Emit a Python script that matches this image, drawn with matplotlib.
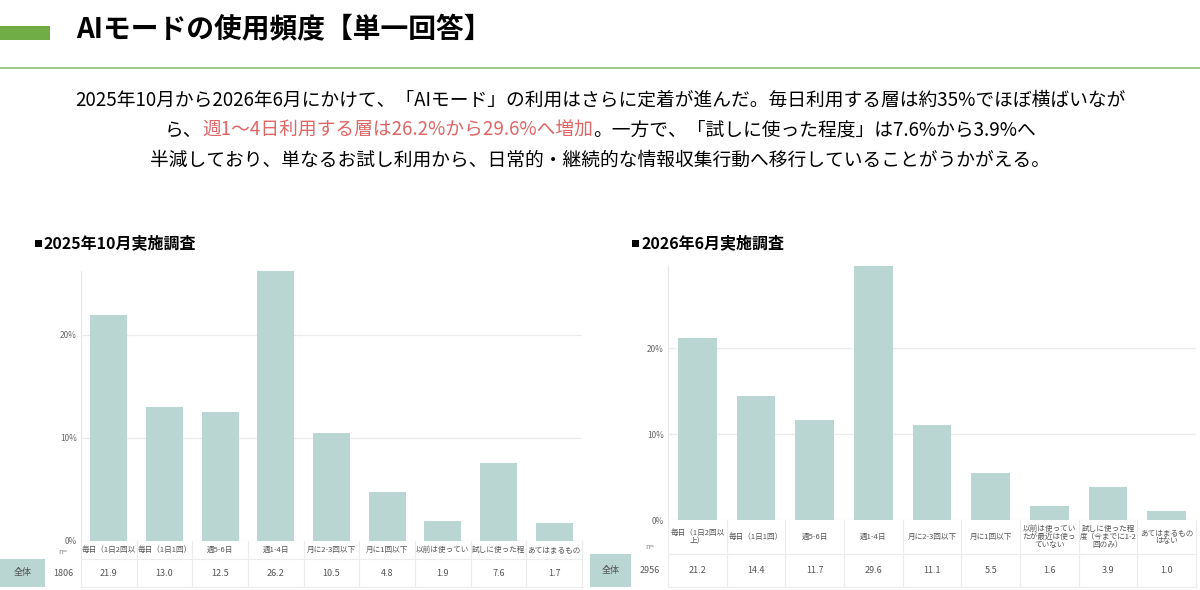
import matplotlib.pyplot as plt
import matplotlib.transforms as mtransforms
from matplotlib.patches import Rectangle
from matplotlib.lines import Line2D

plt.rcParams['font.family'] = ['Noto Sans CJK JP', 'DejaVu Sans']

# ---- data ----
title = "AIモードの使用頻度【単一回答】"
body_lines = [
    [("2025年10月から2026年6月にかけて、「AIモード」の利用はさらに定着が進んだ。毎日利用する層は約35%でほぼ横ばいなが", "k")],
    [("ら、", "k"), ("週1～4日利用する層は26.2%から29.6%へ増加", "red"),
     ("。一方で、「試しに使った程度」は7.6%から3.9%へ", "k")],
    [("半減しており、単なるお試し利用から、日常的・継続的な情報収集行動へ移行していることがうかがえる。", "k")],
]
sub_oct = "2025年10月実施調査"
sub_jun = "2026年6月実施調査"

cats_oct = ["毎日（1日2回以", "毎日（1日1回）", "週5-6日", "週1-4日", "月に2-3回以下",
            "月に1回以下", "以前は使ってい", "試しに使った程", "あてはまるもの"]
cats_jun = ["毎日（1日2回以\n上）", "毎日（1日1回）", "週5-6日", "週1-4日", "月に2-3回以下",
            "月に1回以下", "以前は使ってい\nたが最近は使っ\nていない",
            "試しに使った程\n度（今までに1-2\n回のみ）", "あてはまるもの\nはない"]
vals_oct = [21.9, 13.0, 12.5, 26.2, 10.5, 4.8, 1.9, 7.6, 1.7]
vals_jun = [21.2, 14.4, 11.7, 29.6, 11.1, 5.5, 1.6, 3.9, 1.0]
n_oct = 1806
n_jun = 2956
yticks = [0, 10, 20]

W, H = 1200, 590
BAR = "#b9d6d2"
RED = "#e06666"
GRID = "#ececec"
TXT = "#555555"

fig = plt.figure(figsize=(W / 100, H / 100), dpi=100)


def px_axes(x0, y0, x1, y1):
    return fig.add_axes([x0 / W, 1 - y1 / H, (x1 - x0) / W, (y1 - y0) / H])


# header
fig.add_artist(Rectangle((0, 1 - 40 / H), 50 / W, 14 / H, transform=fig.transFigure,
                         color="#70ad47", lw=0))
fig.add_artist(Line2D([0, 1], [1 - 68 / H, 1 - 68 / H], transform=fig.transFigure,
                      color="#93c47d", lw=1.3))
fig.text(76 / W, 1 - 30 / H, title, fontsize=20, fontweight="bold", va="center")

# body text, centred, with a red segment
renderer = fig.canvas.get_renderer()
for i, parts in enumerate(body_lines):
    y = 1 - (100 + 30 * i) / H
    items = []
    total = 0
    for s, c in parts:
        t = fig.text(0, y, s, fontsize=13.5, va="center", ha="left",
                     color=RED if c == "red" else "black")
        w = t.get_window_extent(renderer).width
        items.append((t, w))
        total += w
    x = 600 - total / 2
    for t, w in items:
        t.set_x(x / W)
        x += w

# section headings with a small square marker
for x0, s in [(35, sub_oct), (632, sub_jun)]:
    fig.add_artist(Rectangle((x0 / W, 1 - 247 / H), 7 / W, 7 / H,
                             transform=fig.transFigure, color="black", lw=0))
    fig.text((x0 + 9) / W, 1 - 243 / H, s, fontsize=11.5, fontweight="bold", va="center")


def draw_chart(ax, cats, vals, n, head_px, row_px, lab_px, n_px):
    x = range(len(vals))
    ax.bar(x, vals, width=0.66, color=BAR, zorder=2)
    ax.set_xlim(-0.5, len(vals) - 0.5)
    ax.set_ylim(0, max(vals))
    ax.set_yticks(yticks)
    ax.set_yticklabels([f"{v}%" for v in yticks])
    ax.set_xticks([])
    ax.tick_params(length=0, labelsize=6, colors="#666666", pad=3)
    ax.grid(axis="y", color=GRID, lw=0.9, zorder=0)
    for s in ["top", "right", "bottom"]:
        ax.spines[s].set_visible(False)
    ax.spines["left"].set_color("#e6e6e6")
    ax.spines["left"].set_linewidth(0.8)

    # table under the bars
    bb = ax.get_position()
    ax_w = bb.width * W
    ax_h = bb.height * H
    dpp = len(vals) / ax_w
    tr = mtransforms.blended_transform_factory(ax.transData, ax.transAxes)
    y0 = 0
    y1 = -head_px / ax_h
    y2 = -(head_px + row_px) / ax_h
    left = -0.5
    xn = left - n_px * dpp
    xl = xn - lab_px * dpp
    kw = dict(transform=tr, clip_on=False, color=GRID, lw=0.8)
    # teal row label cell
    ax.add_patch(Rectangle((xl, y2), lab_px * dpp, y1 - y2, transform=tr,
                           clip_on=False, color=BAR, lw=0))
    ax.text((xl + xn) / 2, (y1 + y2) / 2, "全体", transform=tr, ha="center",
            va="center", fontsize=6.5, color=TXT)
    ax.text((xn + left) / 2, y1 + 3 / ax_h, "n=", transform=tr, ha="center",
            va="bottom", fontsize=5.5, color="#888888")
    ax.text((xn + left) / 2, (y1 + y2) / 2, str(n), transform=tr, ha="center",
            va="center", fontsize=6.5, color=TXT)
    # horizontal rules
    ax.add_line(Line2D([left, len(vals) - 0.5], [y1, y1], **kw))
    ax.add_line(Line2D([left, len(vals) - 0.5], [y2, y2], **kw))
    for i, (c, v) in enumerate(zip(cats, vals)):
        ax.add_line(Line2D([i - 0.5, i - 0.5], [y0, y2], **kw))
        ax.text(i, (y0 + y1) / 2, c, transform=tr, ha="center", va="center",
                fontsize=5.5, color=TXT, linespacing=1.05)
        ax.text(i, (y1 + y2) / 2, f"{v:.1f}", transform=tr, ha="center",
                va="center", fontsize=6.5, color=TXT)
    ax.add_line(Line2D([len(vals) - 0.5] * 2, [y0, y2], **kw))


ax1 = px_axes(81, 271, 582, 541)
draw_chart(ax1, cats_oct, vals_oct, n_oct, 18, 28, 45, 36)

ax2 = px_axes(668, 266, 1196, 520)
draw_chart(ax2, cats_jun, vals_jun, n_jun, 34, 33, 41, 37)

fig.savefig("out.png", dpi=100)
